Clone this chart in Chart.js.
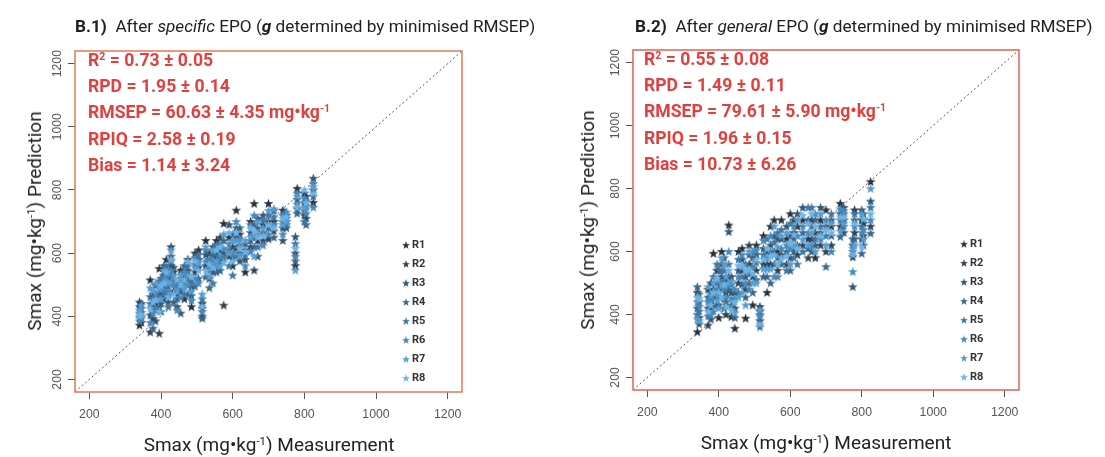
<!DOCTYPE html>
<html>
<head>
<meta charset="utf-8">
<script src="https://cdn.jsdelivr.net/npm/chart.js@4.4.0/dist/chart.umd.min.js"></script>
<style>
  body { margin: 0; background: #fff; width: 1105px; height: 457px; overflow: hidden; position: relative; font-family: Roboto, sans-serif; }
  canvas { position: absolute; top: 0; }
  .ttl { position: absolute; font-size: 17.2px; color: #1e1e1e; white-space: nowrap; line-height: 18px; }
  .stats { position: absolute; color: #E2403F; font-weight: bold; font-size: 17.6px; line-height: 26.2px; white-space: nowrap; }
  .axt { position: absolute; font-size: 19px; color: #222; white-space: nowrap; transform: translate(-50%, -50%); line-height: 22px; }
  .axt.rot { transform: translate(-50%, -50%) rotate(-90deg); }
  sup { font-size: 0.6em; vertical-align: 0.55em; line-height: 0; }
</style>
</head>
<body>
<canvas id="c1" width="552" height="457" style="left:0;width:552px;height:457px"></canvas>
<canvas id="c2" width="553" height="457" style="left:552px;width:553px;height:457px"></canvas>

<div class="ttl" style="left:75px;top:17px"><b>B.1)</b>&nbsp; After <i>specific</i> EPO (<b><i>g</i></b> determined by minimised RMSEP)</div>
<div class="ttl" style="left:635px;top:17px"><b>B.2)</b>&nbsp; After <i>general</i> EPO (<b><i>g</i></b> determined by minimised RMSEP)</div>

<div class="stats" id="s1" style="left:88px;top:47px"></div>
<div class="stats" id="s2" style="left:644px;top:46px"></div>

<div class="axt" style="left:269px;top:445px">Smax (mg•kg<sup>-1</sup>) Measurement</div>
<div class="axt" style="left:826px;top:443px">Smax (mg•kg<sup>-1</sup>) Measurement</div>
<div class="axt rot" style="left:35px;top:221px">Smax (mg•kg<sup>-1</sup>) Prediction</div>
<div class="axt rot" style="left:588px;top:220px">Smax (mg•kg<sup>-1</sup>) Prediction</div>

<script>
// Axis range and tick values (mg·kg-1)
const axisMin = 160;
const axisMax = 1240;
const tickValues = [200, 400, 600, 800, 1000, 1200];

// Repetition labels and marker colours
const repLabels = ['R1', 'R2', 'R3', 'R4', 'R5', 'R6', 'R7', 'R8'];
const repColors = ['#26313d', '#2e4357', '#335571', '#38668a', '#3d77a3', '#4588bb', '#559dd2', '#6cb3e6'];

// Measured Smax per sample
const measured = [340, 345, 370, 378, 385, 395, 400, 408, 415, 420, 428, 435, 445, 455, 465, 475, 485, 495, 505, 515,
  525, 535, 545, 555, 565, 575, 590, 600, 610, 620, 635, 650, 660, 670, 685, 700, 715, 740, 750, 775, 780, 800, 805, 825];

// B.1 predictions per repetition (specific EPO)
const specR1 = [372, 380, 515, 470, 440, 551, 505, 530, 580, 468, 620, 540, 505, 546, 455, 580, 430, 600, 610, 441, 640, 600, 565, 640, 575, 694, 650, 560, 736, 600, 540, 700, 757, 640, 690, 757, 700, 736, 700, 560, 805, 790, 780, 760];
const specR2 = [445, 440, 350, 392, 498, 346, 470, 455, 498, 520, 560, 480, 430, 480, 530, 520, 490, 540, 555, 400, 560, 520, 620, 585, 650, 435, 590, 620, 650, 660, 610, 620, 546, 710, 640, 645, 670, 680, 720, 600, 740, 720, 710, 800];
const specR3 = [430, 398, 404, 430, 385, 470, 440, 560, 545, 445, 590, 555, 470, 410, 505, 545, 515, 565, 580, 425, 595, 560, 540, 600, 610, 600, 690, 585, 615, 575, 580, 665, 690, 590, 720, 700, 735, 640, 680, 652, 770, 760, 750, 837];
const specR4 = [395, 425, 462, 362, 462, 430, 520, 495, 470, 495, 530, 445, 455, 520, 560, 470, 465, 495, 520, 393, 525, 490, 595, 540, 545, 640, 610, 660, 680, 680, 630, 640, 620, 680, 665, 680, 650, 700, 710, 575, 726, 735, 690, 780];
const specR5 = [410, 412, 440, 455, 420, 512, 415, 478, 560, 430, 575, 515, 490, 495, 470, 560, 505, 585, 595, 455, 610, 580, 505, 625, 630, 585, 560, 530, 590, 625, 595, 690, 650, 620, 705, 720, 715, 720, 690, 630, 790, 700, 765, 820];
const specR6 = [385, 392, 380, 410, 475, 455, 485, 520, 525, 478, 545, 500, 420, 460, 540, 498, 450, 520, 505, 415, 575, 545, 575, 560, 590, 615, 630, 600, 700, 645, 560, 605, 720, 660, 625, 660, 690, 660, 730, 590, 755, 775, 725, 745];
const specR7 = [420, 435, 490, 480, 505, 490, 455, 545, 510, 505, 610, 530, 480, 530, 490, 530, 480, 555, 570, 470, 620, 525, 610, 575, 560, 660, 600, 640, 640, 595, 640, 650, 590, 700, 680, 735, 740, 690, 700, 546, 780, 745, 740, 810];
const specR8 = [402, 405, 425, 445, 452, 415, 498, 505, 540, 462, 580, 470, 515, 500, 515, 575, 525, 575, 545, 432, 545, 565, 555, 610, 620, 570, 665, 575, 665, 615, 605, 680, 670, 650, 655, 690, 680, 710, 715, 615, 745, 800, 760, 790];

// B.2 predictions per repetition (general EPO)
const genR1 = [345, 390, 480, 500, 594, 540, 390, 600, 505, 470, 684, 393, 356, 600, 610, 388, 560, 430, 620, 425, 650, 470, 680, 700, 600, 700, 640, 720, 660, 680, 700, 640, 700, 580, 700, 732, 680, 753, 700, 583, 732, 700, 690, 822];
const genR2 = [470, 440, 366, 420, 430, 460, 480, 520, 450, 400, 520, 470, 420, 500, 540, 480, 620, 520, 540, 380, 560, 560, 560, 600, 540, 590, 560, 580, 700, 590, 620, 580, 640, 660, 620, 600, 620, 680, 740, 620, 660, 640, 650, 680];
const genR3 = [420, 370, 420, 385, 480, 500, 430, 560, 580, 515, 663, 520, 470, 540, 575, 520, 500, 580, 590, 410, 610, 600, 620, 650, 640, 640, 680, 650, 600, 720, 740, 700, 600, 620, 740, 680, 700, 720, 660, 488, 700, 732, 720, 760];
const genR4 = [488, 465, 455, 470, 455, 430, 540, 480, 420, 440, 480, 430, 390, 470, 495, 455, 590, 470, 510, 361, 520, 520, 500, 560, 580, 560, 600, 540, 640, 620, 660, 610, 680, 700, 660, 552, 650, 647, 720, 640, 640, 594, 620, 658];
const genR5 = [400, 410, 395, 445, 520, 560, 455, 540, 540, 490, 560, 495, 450, 575, 520, 560, 530, 550, 565, 400, 590, 640, 600, 630, 660, 670, 540, 690, 580, 560, 600, 740, 740, 640, 680, 650, 720, 700, 680, 600, 720, 680, 700, 740];
const genR6 = [440, 425, 440, 400, 410, 480, 505, 500, 480, 455, 600, 450, 480, 520, 590, 500, 480, 600, 605, 395, 635, 580, 650, 520, 520, 610, 620, 610, 680, 650, 680, 660, 620, 720, 640, 700, 600, 735, 730, 536, 680, 660, 670, 700];
const genR7 = [385, 380, 488, 460, 500, 445, 420, 580, 560, 520, 500, 505, 405, 455, 470, 430, 600, 500, 500, 415, 545, 545, 545, 680, 615, 650, 660, 560, 620, 700, 640, 620, 660, 600, 720, 620, 690, 665, 690, 610, 620, 720, 640, 800];
const genR8 = [455, 450, 410, 430, 470, 515, 470, 455, 495, 425, 540, 415, 440, 555, 555, 540, 545, 530, 575, 370, 575, 610, 585, 590, 560, 580, 585, 630, 655, 610, 715, 690, 720, 680, 650, 670, 660, 710, 710, 590, 690, 615, 705, 720];

// Validation statistics shown in each panel
const statNames = ['R<sup>2</sup>', 'RPD', 'RMSEP', 'RPIQ', 'Bias'];
const statUnits = ['', '', ' mg•kg<sup>-1</sup>', '', ''];
const specStats = ['0.73 ± 0.05', '1.95 ± 0.14', '60.63 ± 4.35', '2.58 ± 0.19', '1.14 ± 3.24'];
const genStats = ['0.55 ± 0.08', '1.49 ± 0.11', '79.61 ± 5.90', '1.96 ± 0.15', '10.73 ± 6.26'];

function fillStats(id, values) {
  document.getElementById(id).innerHTML =
    statNames.map((n, i) => `<div>${n} = ${values[i]}${statUnits[i]}</div>`).join('');
}
fillStats('s1', specStats);
fillStats('s2', genStats);

// Filled five-point star marker
function starMarker(color) {
  const size = 11, c = document.createElement('canvas');
  c.width = size; c.height = size;
  const g = c.getContext('2d');
  const cx = size / 2, cy = size / 2 + 0.4, ro = 5.1, ri = 2.1;
  g.beginPath();
  for (let k = 0; k < 10; k++) {
    const r = k % 2 ? ri : ro;
    const a = -Math.PI / 2 + k * Math.PI / 5;
    const px = cx + r * Math.cos(a), py = cy + r * Math.sin(a);
    k ? g.lineTo(px, py) : g.moveTo(px, py);
  }
  g.closePath();
  g.fillStyle = color;
  g.fill();
  return c;
}
const markers = repColors.map(starMarker);

// Frame around the plotting region
const framePlugin = {
  id: 'frame',
  afterDatasetsDraw(chart, args, opts) {
    const a = chart.chartArea, ctx = chart.ctx;
    ctx.save();
    ctx.strokeStyle = opts.color;
    ctx.lineWidth = 1.6;
    ctx.strokeRect(a.left, a.top, a.right - a.left, a.bottom - a.top);
    ctx.restore();
  }
};

// Vertical tick labels on the y axis
const yLabelPlugin = {
  id: 'yLabels',
  afterDraw(chart) {
    const s = chart.scales.y, ctx = chart.ctx;
    ctx.save();
    ctx.font = '12.3px "Liberation Sans", Arial, sans-serif';
    ctx.fillStyle = '#555';
    ctx.textAlign = 'center';
    ctx.textBaseline = 'middle';
    s.ticks.forEach(t => {
      ctx.save();
      ctx.translate(s.right - 17, s.getPixelForValue(t.value));
      ctx.rotate(-Math.PI / 2);
      ctx.fillText(String(t.value), 0, 0);
      ctx.restore();
    });
    ctx.restore();
  }
};

// In-plot legend listing the repetitions
const legendPlugin = {
  id: 'repLegend',
  afterDraw(chart) {
    const a = chart.chartArea, ctx = chart.ctx;
    ctx.save();
    ctx.font = 'bold 11px Roboto, sans-serif';
    ctx.fillStyle = '#333';
    ctx.textBaseline = 'middle';
    repLabels.forEach((lab, i) => {
      const y = a.top + 194 + i * 19;
      const x = a.left + 331;
      ctx.drawImage(markers[i], x - 4.5, y - 4.5, 9, 9);
      ctx.fillText(lab, x + 6, y + 0.5);
    });
    ctx.restore();
  }
};

function makeChart(canvasId, series, frameColor, pad, yWidth, xHeight) {
  const datasets = series.map((vals, i) => ({
    label: repLabels[i],
    data: measured.map((m, j) => ({ x: m, y: vals[j] })),
    pointStyle: markers[i],
    pointRadius: 5,
    order: series.length - 1 - i
  }));
  datasets.push({
    type: 'line',
    label: '1:1',
    data: [{ x: axisMin, y: axisMin }, { x: axisMax, y: axisMax }],
    borderColor: '#555',
    borderWidth: 1,
    borderDash: [2, 2.5],
    pointRadius: 0,
    order: 20
  });
  const setTicks = s => { s.ticks = tickValues.map(v => ({ value: v })); };
  return new Chart(document.getElementById(canvasId), {
    type: 'scatter',
    data: { datasets },
    options: {
      responsive: false,
      animation: false,
      devicePixelRatio: 1,
      layout: { padding: pad },
      plugins: { legend: { display: false }, tooltip: { enabled: false }, frame: { color: frameColor } },
      scales: {
        x: {
          type: 'linear', min: axisMin, max: axisMax,
          afterBuildTicks: setTicks,
          afterFit: s => { s.height = xHeight; },
          grid: { display: true, drawOnChartArea: false, drawTicks: true, tickLength: 7, tickColor: '#555', tickWidth: 1 },
          border: { display: false },
          ticks: {
            color: '#555', padding: 8, maxRotation: 0,
            font: { family: '"Liberation Sans", Arial, sans-serif', size: 12.3 },
            callback: v => String(v)
          }
        },
        y: {
          type: 'linear', min: axisMin, max: axisMax,
          afterBuildTicks: setTicks,
          afterFit: s => { s.width = yWidth; },
          grid: { display: true, drawOnChartArea: false, drawTicks: true, tickLength: 7, tickColor: '#555', tickWidth: 1 },
          border: { display: false },
          ticks: { display: false }
        }
      }
    },
    plugins: [framePlugin, yLabelPlugin, legendPlugin]
  });
}

makeChart('c1', [specR1, specR2, specR3, specR4, specR5, specR6, specR7, specR8], '#E5835F',
  { left: 0, top: 51, right: 90, bottom: 0 }, 75, 65);
makeChart('c2', [genR1, genR2, genR3, genR4, genR5, genR6, genR7, genR8], '#E06B5E',
  { left: 0, top: 50, right: 86, bottom: 0 }, 81, 67);
</script>
</body>
</html>
